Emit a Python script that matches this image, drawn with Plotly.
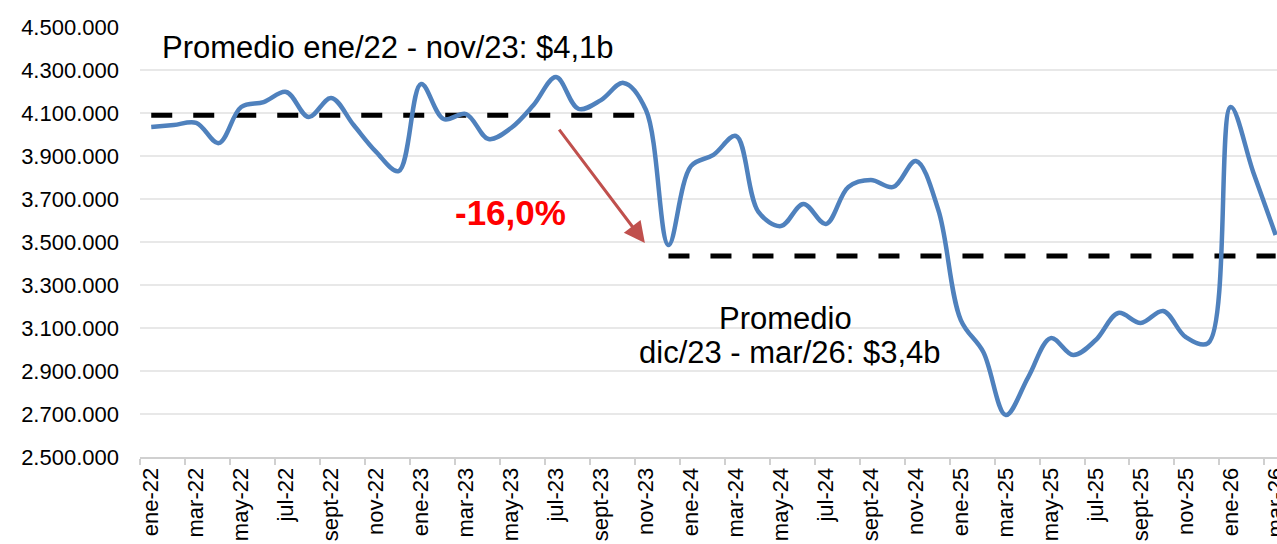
import plotly.graph_objects as go

# ---- data ----
months = [
    "ene-22", "feb-22", "mar-22", "abr-22", "may-22", "jun-22", "jul-22", "ago-22", "sept-22", "oct-22", "nov-22", "dic-22",
    "ene-23", "feb-23", "mar-23", "abr-23", "may-23", "jun-23", "jul-23", "ago-23", "sept-23", "oct-23", "nov-23", "dic-23",
    "ene-24", "feb-24", "mar-24", "abr-24", "may-24", "jun-24", "jul-24", "ago-24", "sept-24", "oct-24", "nov-24", "dic-24",
    "ene-25", "feb-25", "mar-25", "abr-25", "may-25", "jun-25", "jul-25", "ago-25", "sept-25", "oct-25", "nov-25", "dic-25",
    "ene-26", "feb-26", "mar-26",
]
values = [
    4035000, 4044000, 4054000, 3960000, 4128000, 4151000, 4198000, 4081000, 4170000, 4044000, 3919000, 3830000,
    4235000, 4072000, 4095000, 3979000, 4030000, 4137000, 4267000, 4119000, 4160000, 4240000, 4114000, 3486000,
    3853000, 3905000, 3993000, 3640000, 3574000, 3677000, 3584000, 3756000, 3788000, 3756000, 3877000, 3649000,
    3137000, 2988000, 2695000, 2872000, 3053000, 2974000, 3044000, 3170000, 3123000, 3179000, 3058000, 3030000,
    4128000, 3826000, 3533000,
]
avg_period1_months = months[0:23]   # ene-22 .. nov-23
avg_period1 = 4090000
avg_period2_months = months[23:]    # dic-23 .. mar-26
avg_period2 = 3435000
tick_labels = months[::2]
y_ticks = [2500000, 2700000, 2900000, 3100000, 3300000, 3500000, 3700000, 3900000, 4100000, 4300000, 4500000]
y_tick_text = ["2.500.000", "2.700.000", "2.900.000", "3.100.000", "3.300.000", "3.500.000",
               "3.700.000", "3.900.000", "4.100.000", "4.300.000", "4.500.000"]

FONT = "Liberation Sans, Arial, sans-serif"

fig = go.Figure()

fig.add_trace(go.Scatter(
    x=avg_period1_months, y=[avg_period1] * len(avg_period1_months),
    mode="lines", line=dict(color="#000000", width=5, dash="21px,21px"),
    hoverinfo="skip", showlegend=False,
))
fig.add_trace(go.Scatter(
    x=avg_period2_months, y=[avg_period2] * len(avg_period2_months),
    mode="lines", line=dict(color="#000000", width=5, dash="21px,21px"),
    hoverinfo="skip", showlegend=False,
))
fig.add_trace(go.Scatter(
    x=months, y=values, mode="lines",
    line=dict(color="#4F81BD", width=4.5, shape="spline", smoothing=1.0),
    showlegend=False,
))

fig.update_layout(
    width=1277, height=544,
    margin=dict(l=140, r=0, t=27, b=87, autoexpand=False),
    paper_bgcolor="white", plot_bgcolor="white",
    font=dict(family=FONT, color="#000000"),
    showlegend=False,
)

fig.update_xaxes(
    type="category",
    categoryorder="array", categoryarray=months,
    range=[-0.5, 50.06],
    tickmode="array", tickvals=tick_labels, ticktext=tick_labels,
    tickangle=-90,
    tickfont=dict(family=FONT, size=22, color="#000000"),
    tickson="boundaries", ticks="outside", ticklen=6, tickcolor="#D0D0D0", tickwidth=1.5,
    showline=True, linecolor="#D0D0D0", linewidth=2,
    showgrid=False, zeroline=False, automargin=False,
)
fig.update_yaxes(
    range=[2500000, 4500000],
    tickmode="array", tickvals=y_ticks, ticktext=y_tick_text,
    tickfont=dict(family=FONT, size=22, color="#000000"),
    ticklabelstandoff=20,
    showgrid=True, gridcolor="#E8E8E8", gridwidth=1.5,
    showline=False, zeroline=False, ticks="", automargin=False,
)

# Annotations
fig.add_annotation(
    x=10.55, y=4405000, xref="x", yref="y",
    text="Promedio ene/22 - nov/23: $4,1b", showarrow=False,
    font=dict(family=FONT, size=31, color="#000000"),
    xanchor="center", yanchor="middle",
)
fig.add_annotation(
    x=28.2, y=3142000, xref="x", yref="y",
    text="Promedio", showarrow=False,
    font=dict(family=FONT, size=31, color="#000000"),
    xanchor="center", yanchor="middle",
)
fig.add_annotation(
    x=28.4, y=2986000, xref="x", yref="y",
    text="dic/23 - mar/26: $3,4b", showarrow=False,
    font=dict(family=FONT, size=31, color="#000000"),
    xanchor="center", yanchor="middle",
)
fig.add_annotation(
    x=15.97, y=3637000, xref="x", yref="y",
    text="-16,0%", showarrow=False,
    font=dict(family=FONT, size=35, color="#FF0000", weight="bold"),
    xanchor="center", yanchor="middle",
)
fig.add_annotation(
    x=21.95, y=3495000, xref="x", yref="y",
    ax=18.09, ay=4030000, axref="x", ayref="y",
    text="", showarrow=True, arrowhead=2, arrowsize=1.4, arrowwidth=3,
    arrowcolor="#C0504D",
)

# remove the default 8px page margin so the figure fills the window exactly
fig.write_html(
    "out.html",
    config={"displayModeBar": False},
    post_script="document.body.style.margin='0';document.body.style.overflow='hidden';",
)
